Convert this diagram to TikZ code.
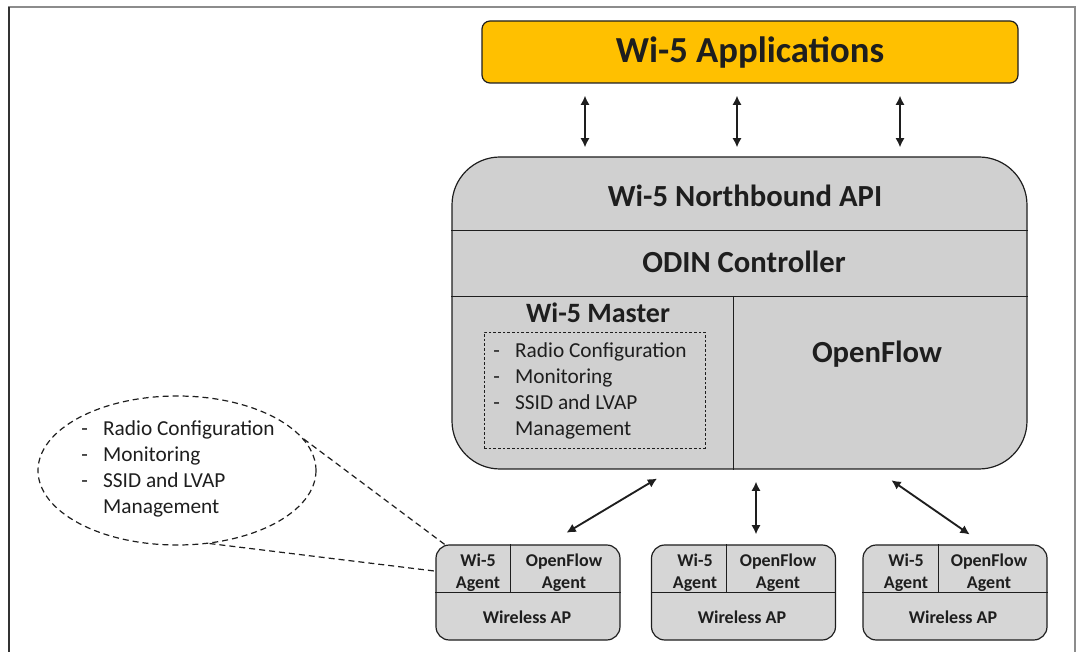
\documentclass[tikz,border=0pt]{standalone}
\usepackage{fontspec}
\setmainfont{Carlito}
\usetikzlibrary{positioning,shapes.geometric,arrows.meta,calc}
\definecolor{wifiGold}{HTML}{FFC000}
\definecolor{boxGray}{HTML}{D0D0D0}
\definecolor{apGray}{HTML}{D6D6D6}
\definecolor{inkDark}{HTML}{1E1E1E}
\tikzset{
  AppStyle/.style = { draw=inkDark, line width=0.9pt, fill=wifiGold, rounded corners=6pt,
    minimum width=402pt, minimum height=46.5pt, text=inkDark,
    font=\fontsize{27.5}{33}\selectfont\bfseries },
  CtrlStyle/.style = { draw=inkDark, line width=0.9pt, fill=boxGray, rounded corners=36pt,
    minimum width=431.25pt, minimum height=234pt },
  TitleStyle/.style = { font=\fontsize{23}{27}\selectfont\bfseries, text=inkDark, inner sep=0pt },
  ListStyle/.style = { font=\fontsize{16}{19.5}\selectfont, text=inkDark, inner sep=0pt },
  APStyle/.style = { draw=inkDark, line width=0.9pt, fill=apGray, rounded corners=10pt,
    minimum width=138pt, minimum height=71.25pt },
  CellText/.style = { align=center, text=inkDark, inner sep=0pt,
    font=\fontsize{13.5}{16.5}\selectfont\bfseries },
  Divider/.style = { draw=inkDark, line width=0.7pt },
  Duplex/.style = { {Latex[length=7pt,width=7pt]}-{Latex[length=7pt,width=7pt]},
    line width=1.4pt, draw=inkDark },
  ZoomLine/.style = { dash pattern=on 4.5pt off 3pt, line width=0.9pt, draw=inkDark } }
\newcommand\TaskList{%
  \begin{tabular}{@{}l@{\hspace{11.5pt}}l@{}}
    - & Radio Configuration\\
    - & Monitoring\\
    - & SSID and LVAP\\
      & Management
  \end{tabular}}

\begin{document}
\begin{tikzpicture}[x=0.75pt, y=-0.75pt]
  \useasboundingbox (0,0) rectangle (1083,652);
  % frame
  \draw[line width=1.2pt, draw=black!45] (9,660) -- (9,7) -- (1075,7) -- (1075,660);
  \draw[line width=1.6pt, draw=black!80] (9,660) -- (9,7);

  % applications and controller
  \node[AppStyle] (apps) at (750,52) {Wi-5 Applications};
  \node[CtrlStyle] (ctrl) at (739.5,313) {};
  \coordinate (cut1) at (733,230);
  \coordinate (cut2) at (733,296);
  \draw[Divider] (ctrl.west |- cut1) -- (ctrl.east |- cut1);
  \draw[Divider] (ctrl.west |- cut2) -- (ctrl.east |- cut2);
  \draw[Divider] (cut2) -- (cut2 |- ctrl.south);
  \node[TitleStyle, anchor=base] (api) at (745,207) {Wi-5 Northbound API};
  \node[TitleStyle, anchor=base] (odin) at (744,273) {ODIN Controller};
  \node[TitleStyle, anchor=base, font=\fontsize{21}{25}\selectfont\bfseries] (master) at (598,323) {Wi-5 Master};
  \node[TitleStyle, anchor=base] (oflow) at (877,363) {OpenFlow};
  \node[draw=inkDark, dash pattern=on 2pt off 1.5pt, line width=0.6pt,
    minimum width=165.75pt, minimum height=87pt] (mbox) at (594.5,390) {};
  \node[ListStyle, anchor=west] (mlist) at (493,391) {\TaskList};

  % applications <-> controller
  \draw[Duplex, shorten <=9pt, shorten >=6.75pt] (apps.south -| 585,0) -- (ctrl.north -| 585,0);
  \draw[Duplex, shorten <=9pt, shorten >=6.75pt] (apps.south -| 737,0) -- (ctrl.north -| 737,0);
  \draw[Duplex, shorten <=9pt, shorten >=6.75pt] (apps.south -| 900,0) -- (ctrl.north -| 900,0);

  % wireless APs
  \node[APStyle] (ap1) at (528,592.5) {};
  \coordinate (ap1h) at ($(ap1.north west)!0.495!(ap1.south west)$);
  \coordinate (ap1v) at ($(ap1.north west)!0.408!(ap1.north east)$);
  \draw[Divider] (ap1h) -- (ap1h -| ap1.east);
  \draw[Divider] (ap1v) -- (ap1v |- ap1h);
  \node[CellText] (ap1wa) at (478,573) {Wi-5\\Agent};
  \node[CellText] (ap1oa) at (564,573) {OpenFlow\\Agent};
  \node[CellText] (ap1ap) at (527,617) {Wireless AP};

  \node[APStyle] (ap2) at (743.5,592.5) {};
  \coordinate (ap2h) at ($(ap2.north west)!0.495!(ap2.south west)$);
  \coordinate (ap2v) at ($(ap2.north west)!0.408!(ap2.north east)$);
  \draw[Divider] (ap2h) -- (ap2h -| ap2.east);
  \draw[Divider] (ap2v) -- (ap2v |- ap2h);
  \node[CellText] (ap2wa) at (695,573) {Wi-5\\Agent};
  \node[CellText] (ap2oa) at (778,573) {OpenFlow\\Agent};
  \node[CellText] (ap2ap) at (742,617) {Wireless AP};

  \node[APStyle] (ap3) at (955,592.5) {};
  \coordinate (ap3h) at ($(ap3.north west)!0.495!(ap3.south west)$);
  \coordinate (ap3v) at ($(ap3.north west)!0.408!(ap3.north east)$);
  \draw[Divider] (ap3h) -- (ap3h -| ap3.east);
  \draw[Divider] (ap3v) -- (ap3v |- ap3h);
  \node[CellText] (ap3wa) at (906,573) {Wi-5\\Agent};
  \node[CellText] (ap3oa) at (989,573) {OpenFlow\\Agent};
  \node[CellText] (ap3ap) at (953,617) {Wireless AP};

  % controller <-> APs
  \draw[Duplex, shorten <=13pt, shorten >=17pt] (ctrl.south -| 672,0) -- (ap1.north -| 547,0);
  \draw[Duplex, shorten <=9pt, shorten >=7.5pt] (ctrl.south -| 756,0) -- (ap2.north -| 756,0);
  \draw[Duplex, shorten <=14pt, shorten >=13pt] (ctrl.south -| 876,0) -- (ap3.north -| 984,0);

  % zoomed task list
  \node[ellipse, ZoomLine, minimum width=208.5pt, minimum height=111.75pt] (zoom) at (177,470.5) {};
  \node[ListStyle, anchor=west] (zlist) at (81,469) {\TaskList};
  \draw[ZoomLine] (zoom.14) -- (ap1.150);
  \draw[ZoomLine] (zoom.-66) -- (ap1.167);
\end{tikzpicture}
\end{document}
